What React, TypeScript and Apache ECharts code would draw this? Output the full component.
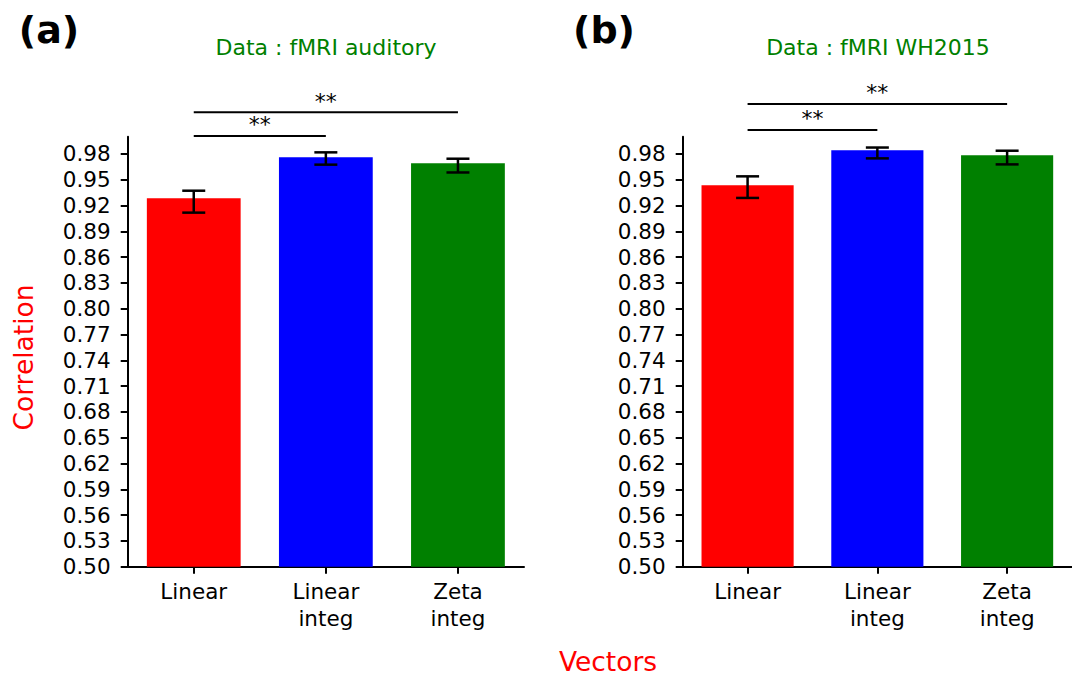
import React, { useEffect, useRef } from "react";
import * as echarts from "echarts";

const categories = ["Linear", "Linear\ninteg", "Zeta\ninteg"];
const barColors = ["#ff0000", "#0000ff", "#008000"];
const yTicks = [0.5, 0.53, 0.56, 0.59, 0.62, 0.65, 0.68, 0.71, 0.74, 0.77, 0.8, 0.83, 0.86, 0.89, 0.92, 0.95, 0.98];

const panelLetters = ["(a)", "(b)"];
const panelTitles = ["Data : fMRI auditory", "Data : fMRI WH2015"];
const yAxisName = "Correlation";
const xAxisName = "Vectors";
const sigLabel = "**";

const auditoryMean = [0.9285, 0.9762, 0.9692];
const auditoryLow = [0.9117, 0.9675, 0.9584];
const auditoryHigh = [0.9372, 0.9818, 0.9744];
const auditorySig = [
  [0, 1, 1.0009],
  [0, 2, 1.0284],
];

const whMean = [0.9435, 0.9843, 0.9785];
const whLow = [0.9288, 0.9748, 0.9678];
const whHigh = [0.9539, 0.9874, 0.9837];
const whSig = [
  [0, 1, 1.0079],
  [0, 2, 1.0381],
];

const FONT = "DejaVu Sans";

function buildPanel(idx: number, mean: number[], low: number[], high: number[], sig: number[][]) {
  const lineStyle = { color: "#000", width: 2 };
  const xAxis = {
    type: "category",
    gridIndex: idx,
    data: categories,
    boundaryGap: true,
    axisLine: { show: true, lineStyle },
    axisTick: { show: true, alignWithLabel: true, length: 7, lineStyle },
    axisLabel: { color: "#000", fontSize: 21.5, fontFamily: FONT, margin: 11, lineHeight: 27 },
    splitLine: { show: false },
  };
  const yAxis = {
    type: "value",
    gridIndex: idx,
    min: 0.5,
    max: 1.0,
    splitLine: { show: false },
    axisLine: { show: true, lineStyle },
    axisTick: { show: true, length: 7, lineStyle, customValues: yTicks },
    axisLabel: {
      customValues: yTicks,
      color: "#000",
      fontSize: 21.5,
      fontFamily: FONT,
      margin: 17,
      formatter: (v: number) => v.toFixed(2),
    },
  };
  const series = [
    {
      type: "bar",
      xAxisIndex: idx,
      yAxisIndex: idx,
      barWidth: "71%",
      data: mean.map((v, i) => ({ value: v, itemStyle: { color: barColors[i] } })),
      z: 2,
    },
    {
      type: "custom",
      xAxisIndex: idx,
      yAxisIndex: idx,
      clip: false,
      z: 4,
      encode: { x: 0, y: [1, 2] },
      data: low.map((l, i) => [i, l, high[i]]),
      renderItem: (params: any, api: any) => {
        const x = api.value(0);
        const lo = api.coord([x, api.value(1)]);
        const hi = api.coord([x, api.value(2)]);
        const hw = 11.5;
        const style = { stroke: "#000", lineWidth: 2.5 };
        return {
          type: "group",
          children: [
            { type: "line", shape: { x1: lo[0], y1: lo[1], x2: hi[0], y2: hi[1] }, style },
            { type: "line", shape: { x1: lo[0] - hw, y1: lo[1], x2: lo[0] + hw, y2: lo[1] }, style },
            { type: "line", shape: { x1: hi[0] - hw, y1: hi[1], x2: hi[0] + hw, y2: hi[1] }, style },
          ],
        };
      },
    },
    {
      type: "custom",
      xAxisIndex: idx,
      yAxisIndex: idx,
      clip: false,
      z: 4,
      encode: { x: [0, 1], y: 2 },
      data: sig,
      renderItem: (params: any, api: any) => {
        const a = api.coord([api.value(0), api.value(2)]);
        const b = api.coord([api.value(1), api.value(2)]);
        return {
          type: "group",
          children: [
            { type: "line", shape: { x1: a[0], y1: a[1], x2: b[0], y2: b[1] }, style: { stroke: "#000", lineWidth: 2 } },
            {
              type: "text",
              x: (a[0] + b[0]) / 2,
              y: a[1] - 11,
              style: {
                text: sigLabel,
                fill: "#000",
                font: `22px '${FONT}'`,
                align: "center",
                verticalAlign: "middle",
                textAlign: "center",
                textVerticalAlign: "middle",
              },
            },
          ],
        };
      },
    },
  ];
  return { xAxis, yAxis, series };
}

function textEl(text: string, x: number, y: number, font: string, fill: string, rotation = 0) {
  return {
    type: "text",
    x,
    y,
    rotation,
    style: {
      text,
      fill,
      font,
      align: "center",
      verticalAlign: "middle",
      textAlign: "center",
      textVerticalAlign: "middle",
    },
  };
}

export default function App() {
  const ref = useRef<HTMLDivElement>(null);
  useEffect(() => {
    if (!ref.current) return;
    const chart = echarts.init(ref.current, null, { renderer: "svg" });
    const pa = buildPanel(0, auditoryMean, auditoryLow, auditoryHigh, auditorySig);
    const pb = buildPanel(1, whMean, whLow, whHigh, whSig);
    chart.setOption({
      animation: false,
      backgroundColor: "#ffffff",
      grid: [
        { left: 127.7, top: 136.7, width: 396.3, height: 430 },
        { left: 682.7, top: 136.7, width: 396.3, height: 430 },
      ],
      xAxis: [pa.xAxis, pb.xAxis],
      yAxis: [pa.yAxis, pb.yAxis],
      series: [...pa.series, ...pb.series],
      graphic: [
        textEl(panelLetters[0], 49, 30, `bold 38px '${FONT}'`, "#000"),
        textEl(panelLetters[1], 604, 30, `bold 38px '${FONT}'`, "#000"),
        textEl(panelTitles[0], 326, 47, `22px '${FONT}'`, "#008000"),
        textEl(panelTitles[1], 878, 47, `22px '${FONT}'`, "#008000"),
        textEl(yAxisName, 23, 357.5, `26.5px '${FONT}'`, "#ff0000", Math.PI / 2),
        textEl(xAxisName, 608, 661, `26.5px '${FONT}'`, "#ff0000"),
      ],
    });
    return () => chart.dispose();
  }, []);
  return <div ref={ref} style={{ position: "fixed", left: 0, top: 0, width: 1072, height: 676 }} />;
}
